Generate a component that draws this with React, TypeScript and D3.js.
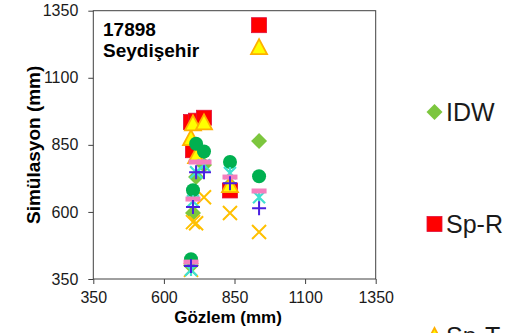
import React, { useEffect, useRef } from "react"
import * as d3 from "d3"

// observed values (x) shared by all methods
const obs = [696, 703, 714, 742, 834, 937]

// simulated values per method
const idw = [400, 596, 730, 775, 700, 864]
const spR = [935, 830, 940, 951, 680, 1296]
const spT = [875, 930, 808, 934, 700, 1214]
const ok = [384, 562, 558, 655, 596, 525]
const rbf = [424, 681, 854, 825, 786, 733]
const gpi = [384, 640, 748, 774, 745, 655]
const lpi = [413, 648, 786, 786, 730, 678]
const uk = [398, 618, 748, 748, 707, 614]

const seriesNames = ["IDW", "Sp-R", "Sp-T", "OK", "RBF", "GPI", "LPI", "UK"]
const ticks = [350, 600, 850, 1100, 1350]

const W = 518
const H = 333
const font = "'Liberation Sans', Arial, sans-serif"

const markers: Record<string, { kind: string; fill: string; stroke?: string }> = {
  IDW: { kind: "diamond", fill: "#7CC63E" },
  "Sp-R": { kind: "square", fill: "#FF0000", stroke: "#E0103C" },
  "Sp-T": { kind: "triangle", fill: "#FFFF00", stroke: "#FFB000" },
  OK: { kind: "x", fill: "none", stroke: "#FFC000" },
  RBF: { kind: "circle", fill: "#00B050" },
  GPI: { kind: "star", fill: "none", stroke: "#40E0D0" },
  LPI: { kind: "dash", fill: "#F47FBE" },
  UK: { kind: "plus", fill: "none", stroke: "#4A1FE0" },
}

function drawMarker(g: any, kind: string, m: any, cx: number, cy: number) {
  if (kind === "diamond") {
    g.append("path")
      .attr("d", `M${cx},${cy - 8}L${cx + 8},${cy}L${cx},${cy + 8}L${cx - 8},${cy}Z`)
      .attr("fill", m.fill)
  } else if (kind === "square") {
    g.append("rect")
      .attr("x", cx - 7.5).attr("y", cy - 7.5)
      .attr("width", 15).attr("height", 15)
      .attr("fill", m.fill).attr("stroke", m.stroke).attr("stroke-width", 0.8)
  } else if (kind === "triangle") {
    g.append("path")
      .attr("d", `M${cx},${cy - 8}L${cx + 8},${cy + 7}L${cx - 8},${cy + 7}Z`)
      .attr("fill", m.fill).attr("stroke", m.stroke).attr("stroke-width", 1.8)
  } else if (kind === "circle") {
    g.append("circle").attr("cx", cx).attr("cy", cy).attr("r", 7).attr("fill", m.fill)
  } else if (kind === "x") {
    g.append("path")
      .attr("d", `M${cx - 7},${cy - 7}L${cx + 7},${cy + 7}M${cx + 7},${cy - 7}L${cx - 7},${cy + 7}`)
      .attr("stroke", m.stroke).attr("stroke-width", 2).attr("fill", "none")
  } else if (kind === "star") {
    g.append("path")
      .attr("d", `M${cx - 6},${cy - 6}L${cx + 6},${cy + 6}M${cx + 6},${cy - 6}L${cx - 6},${cy + 6}M${cx},${cy - 6}L${cx},${cy + 6}`)
      .attr("stroke", m.stroke).attr("stroke-width", 2.2).attr("fill", "none")
  } else if (kind === "dash") {
    g.append("rect")
      .attr("x", cx - 7.5).attr("y", cy - 2.5)
      .attr("width", 15).attr("height", 5)
      .attr("fill", m.fill)
  } else if (kind === "plus") {
    g.append("path")
      .attr("d", `M${cx - 7},${cy}L${cx + 7},${cy}M${cx},${cy - 7}L${cx},${cy + 7}`)
      .attr("stroke", m.stroke).attr("stroke-width", 2).attr("fill", "none")
  }
}

export default function App() {
  const ref = useRef<SVGSVGElement>(null)

  useEffect(() => {
    const svg = d3.select(ref.current)
    svg.selectAll("*").remove()

    const x = d3.scaleLinear().domain([350, 1350]).range([93.3, 375.7])
    const y = d3.scaleLinear().domain([350, 1350]).range([279, 10.7])

    const allSeries = [idw, spR, spT, ok, rbf, gpi, lpi, uk]
    const fmt = d3.format("d")

    // x axis
    const xg = svg.append("g")
      .attr("transform", `translate(0,${y(350)})`)
      .call(d3.axisBottom(x).tickValues(ticks).tickFormat(fmt as any).tickSize(5).tickSizeOuter(0).tickPadding(8))
    xg.select(".domain").remove()
    xg.selectAll("line").attr("stroke", "#404040")
    xg.selectAll("text").attr("font-family", font).attr("font-size", 16).attr("fill", "#1a1a1a")

    // y axis
    const yg = svg.append("g")
      .attr("transform", `translate(${x(350)},0)`)
      .call(d3.axisLeft(y).tickValues(ticks).tickFormat(fmt as any).tickSize(5).tickSizeOuter(0).tickPadding(10))
    yg.select(".domain").remove()
    yg.selectAll("line").attr("stroke", "#404040")
    yg.selectAll("text").attr("font-family", font).attr("font-size", 16).attr("fill", "#1a1a1a")

    // frame
    svg.append("rect")
      .attr("x", x(350)).attr("y", y(1350))
      .attr("width", x(1350) - x(350)).attr("height", y(350) - y(1350))
      .attr("fill", "none").attr("stroke", "#404040").attr("stroke-width", 1)

    // points
    allSeries.forEach((vals, si) => {
      const m = markers[seriesNames[si]]
      const g = svg.append("g")
      vals.forEach((v, i) => drawMarker(g, m.kind, m, x(obs[i]), y(v)))
    })

    // station label
    const t = svg.append("text")
      .attr("font-family", font).attr("font-size", 19).attr("font-weight", "bold").attr("fill", "#000")
    t.append("tspan").attr("x", 103).attr("y", 36).text("17898")
    t.append("tspan").attr("x", 103).attr("y", 57).text("Seydişehir")

    // axis titles
    svg.append("text")
      .attr("x", 228).attr("y", 323).attr("text-anchor", "middle")
      .attr("font-family", font).attr("font-size", 17).attr("font-weight", "bold")
      .text("Gözlem (mm)")
    svg.append("text")
      .attr("transform", `translate(40,${(y(350) + y(1350)) / 2}) rotate(-90)`)
      .attr("text-anchor", "middle")
      .attr("font-family", font).attr("font-size", 19).attr("font-weight", "bold")
      .text("Simülasyon (mm)")

    // legend (only the first entries fall inside the picture)
    const lg = svg.append("g")
    seriesNames.slice(0, 3).forEach((name, i) => {
      const cy = 112 + i * 112
      drawMarker(lg, markers[name].kind, markers[name], 434.5, cy)
      lg.append("text")
        .attr("x", 446).attr("y", cy).attr("dy", "0.36em")
        .attr("font-family", font).attr("font-size", 25).attr("fill", "#1a1a1a")
        .text(name)
    })
  }, [])

  return (
    <svg
      ref={ref}
      width={W}
      height={H}
      style={{ position: "absolute", left: 0, top: 0, background: "#fff" }}
    ></svg>
  )
}
